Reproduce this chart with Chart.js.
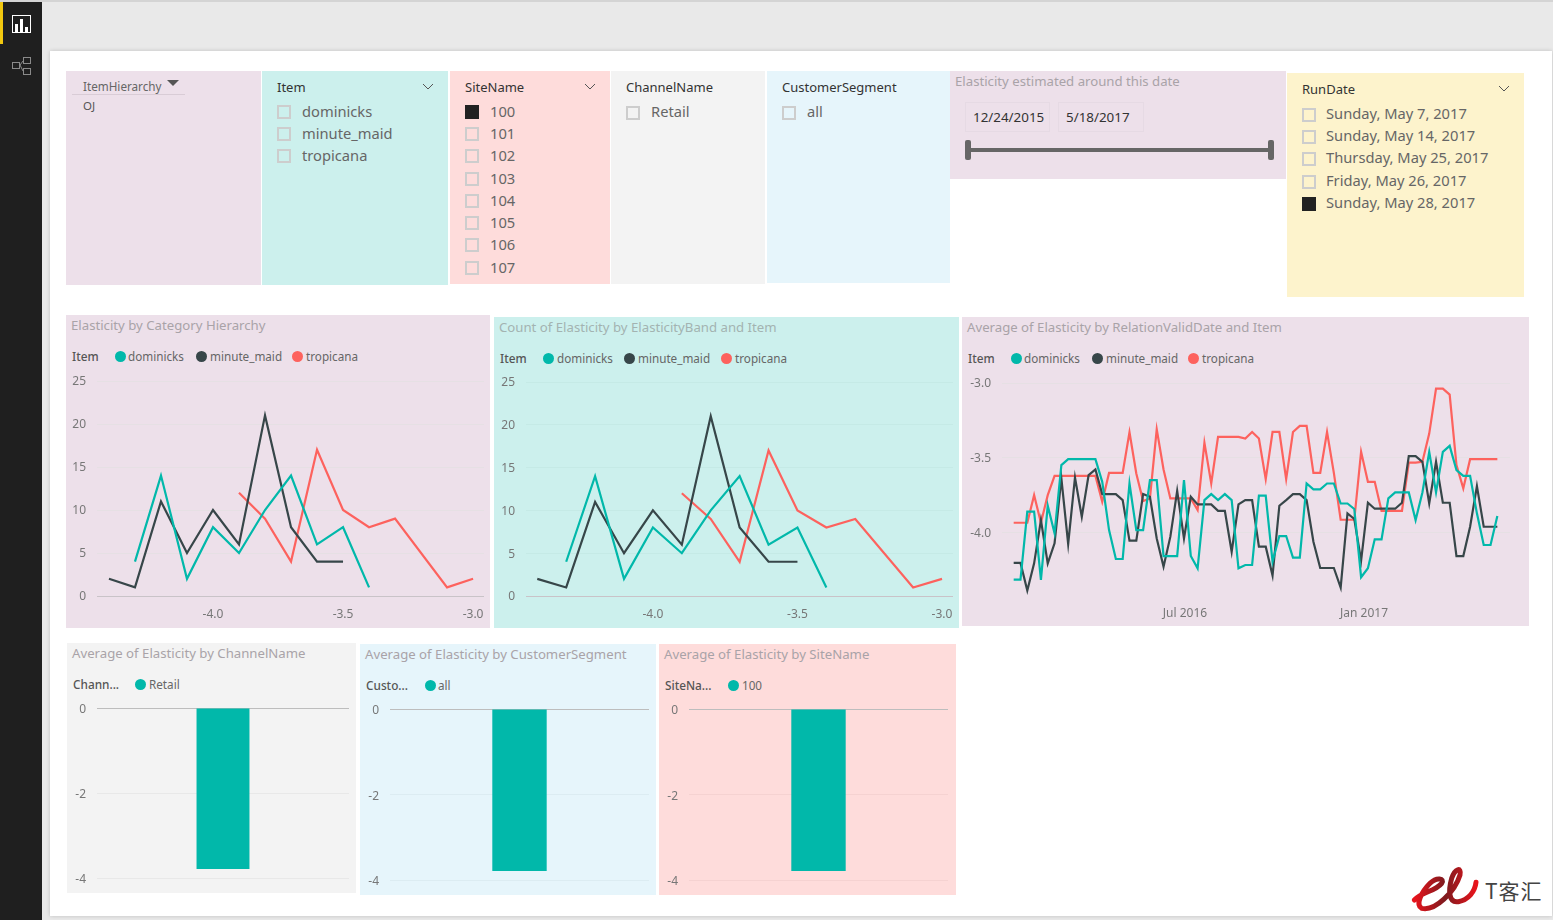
<!DOCTYPE html>
<html>
<head>
<meta charset="utf-8">
<title>Elasticity report</title>
<script src="https://cdn.jsdelivr.net/npm/chart.js@4/dist/chart.umd.min.js"></script>
<style>
html, body { margin: 0; padding: 0; width: 1553px; height: 920px; overflow: hidden; background: #e9e9e9; }
body { font-family: "Noto Sans", sans-serif; position: relative; }
.box { position: absolute; }
.txt { position: absolute; white-space: nowrap; transform: translateY(-50%); line-height: 1; }
.check { position: absolute; width: 10px; height: 10px; border: 2.5px solid #cdcdcd; box-sizing: content-box; }
.check.on { background: #222; border-color: #222; }
.dot { position: absolute; width: 11px; height: 11px; border-radius: 50%; }
canvas { position: absolute; }
</style>
</head>
<body>
<script>
// values
var itemNames = ['dominicks', 'minute_maid', 'tropicana'];
var siteNames = ['100', '101', '102', '103', '104', '105', '106', '107'];
var runDates = ['Sunday, May 7, 2017', 'Sunday, May 14, 2017', 'Thursday, May 25, 2017', 'Friday, May 26, 2017', 'Sunday, May 28, 2017'];
var itemColors = ['#01b8aa', '#374649', '#fd625e'];

var bands = [-4.4, -4.3, -4.2, -4.1, -4.0, -3.9, -3.8, -3.7, -3.6, -3.5, -3.4, -3.3, -3.2, -3.1, -3.0];
var countDominicks = [null, 4, 14, 2, 8, 5, 10, 14, 6, 8, 1, null, null, null, null];
var countMinuteMaid = [2, 1, 11, 5, 10, 6, 21, 8, 4, 4, null, null, null, null, null];
var countTropicana = [null, null, null, null, null, 12, 9, 4, 17, 10, 8, 9, null, 1, 2];

var relationDates = [
  '2016-01-07', '2016-01-14', '2016-01-21', '2016-01-28', '2016-02-04', '2016-02-11', '2016-02-18', '2016-02-25',
  '2016-03-03', '2016-03-10', '2016-03-17', '2016-03-24', '2016-03-31', '2016-04-07', '2016-04-14', '2016-04-21',
  '2016-04-28', '2016-05-05', '2016-05-12', '2016-05-19', '2016-05-26', '2016-06-02', '2016-06-09', '2016-06-16',
  '2016-06-23', '2016-06-30', '2016-07-07', '2016-07-14', '2016-07-21', '2016-07-28', '2016-08-04', '2016-08-11',
  '2016-08-18', '2016-08-25', '2016-09-01', '2016-09-08', '2016-09-15', '2016-09-22', '2016-09-29', '2016-10-06',
  '2016-10-13', '2016-10-20', '2016-10-27', '2016-11-03', '2016-11-10', '2016-11-17', '2016-11-24', '2016-12-01',
  '2016-12-08', '2016-12-15', '2016-12-22', '2016-12-29', '2017-01-05', '2017-01-12', '2017-01-19', '2017-01-26',
  '2017-02-02', '2017-02-09', '2017-02-16', '2017-02-23', '2017-03-02', '2017-03-09', '2017-03-16', '2017-03-23',
  '2017-03-30', '2017-04-06', '2017-04-13', '2017-04-20', '2017-04-27', '2017-05-04', '2017-05-11', '2017-05-18'
];
var avgDominicks = [
  -4.317, -4.317, -3.862, -3.862, -4.319, -3.822, -4.007, -3.550, -3.510, -3.510, -3.510, -3.510,
  -3.510, -3.662, -3.985, -4.179, -4.179, -3.673, -3.985, -3.985, -3.651, -3.651, -4.159, -4.159,
  -4.159, -3.651, -4.159, -4.241, -3.784, -3.744, -3.784, -3.744, -3.784, -4.241, -4.219, -4.219,
  -3.755, -3.755, -4.197, -4.025, -4.025, -4.170, -4.170, -3.673, -3.713, -3.713, -3.673, -3.673,
  -3.807, -3.807, -3.844, -4.301, -4.241, -4.047, -4.047, -3.773, -3.733, -3.733, -3.733, -3.918,
  -3.733, -3.461, -3.733, -3.461, -3.421, -3.584, -3.622, -3.622, -3.873, -4.085, -4.085, -3.891
];
var avgMinuteMaid = [
  -4.205, -4.205, -4.390, -4.208, -3.918, -4.208, -4.074, -3.639, -4.078, -3.633, -3.896, -3.617,
  -3.579, -3.744, -3.744, -3.744, -3.784, -4.056, -4.056, -3.744, -3.762, -4.041, -4.230, -4.029,
  -3.722, -4.041, -3.762, -3.813, -3.813, -3.813, -3.856, -3.856, -4.130, -3.813, -3.784, -3.784,
  -4.096, -4.096, -4.290, -3.822, -3.784, -3.744, -3.744, -3.784, -4.063, -4.239, -4.239, -4.239,
  -4.370, -3.873, -3.911, -4.190, -3.802, -3.842, -3.842, -3.842, -3.842, -3.802, -3.490, -3.490,
  -3.528, -3.807, -3.528, -3.802, -3.802, -4.159, -4.159, -3.963, -3.691, -3.963, -3.963, -3.963
];
var avgTropicana = [
  -3.936, -3.936, -3.936, -3.751, -3.936, -3.751, -3.622, -3.622, -3.622, -3.622, -3.622, -3.622,
  -3.622, -3.795, -3.602, -3.602, -3.602, -3.330, -3.606, -3.791, -3.773, -3.310, -3.579, -3.773,
  -3.773, -3.773, -3.773, -3.851, -3.401, -3.673, -3.361, -3.361, -3.361, -3.361, -3.372, -3.328,
  -3.372, -3.644, -3.328, -3.328, -3.644, -3.328, -3.287, -3.287, -3.602, -3.602, -3.328, -3.602,
  -3.916, -3.916, -3.916, -3.461, -3.662, -3.662, -3.856, -3.856, -3.856, -3.856, -3.533, -3.533,
  -3.528, -3.339, -3.038, -3.038, -3.078, -3.550, -3.706, -3.510, -3.510, -3.510, -3.510, -3.510
];
var avgByChannel = [-3.79];
var avgBySegment = [-3.79];
var avgBySite = [-3.79];

var tickColor = '#777777';
var fontName = '"Noto Sans", sans-serif';

function addBox(x, y, w, h, color) {
    var d = document.createElement('div');
    d.className = 'box';
    d.style.cssText = 'left:' + x + 'px;top:' + y + 'px;width:' + w + 'px;height:' + h + 'px;background:' + color;
    document.body.appendChild(d);
    return d;
}

function addText(str, x, y, size, color, weight) {
    var d = document.createElement('div');
    d.className = 'txt';
    d.textContent = str;
    d.style.cssText = 'left:' + x + 'px;top:' + y + 'px;font-size:' + size + 'px;color:' + color + ';font-weight:' + (weight || 400);
    document.body.appendChild(d);
    return d;
}

function addCheck(x, y, on) {
    var d = document.createElement('div');
    d.className = on ? 'check on' : 'check';
    d.style.left = x + 'px';
    d.style.top = (y - 7) + 'px';
    document.body.appendChild(d);
}

function addChevron(x, y) {
    var s = document.createElementNS('http://www.w3.org/2000/svg', 'svg');
    s.setAttribute('width', 12);
    s.setAttribute('height', 8);
    s.style.cssText = 'position:absolute;left:' + x + 'px;top:' + y + 'px';
    s.innerHTML = '<polyline points="1,1 6,6 11,1" fill="none" stroke="#555" stroke-width="1"/>';
    document.body.appendChild(s);
}

function addLegend(title, titleX, y, names, dotXs, labelXs, colors) {
    addText(title, titleX, y, 11.8, '#555555', 500);
    for (var i = 0; i < names.length; i++) {
        var d = document.createElement('div');
        d.className = 'dot';
        d.style.cssText = 'left:' + dotXs[i] + 'px;top:' + (y - 6) + 'px;background:' + colors[i];
        document.body.appendChild(d);
        addText(names[i], labelXs[i], y, 11.7, '#666666');
    }
}

// canvas covers the panel, plot area is pinned by the paddings and axis sizes
function makeChart(panel, plot, config) {
    var c = document.createElement('canvas');
    c.width = panel.w;
    c.height = panel.h;
    c.style.cssText = 'left:' + panel.x + 'px;top:' + panel.y + 'px;width:' + panel.w + 'px;height:' + panel.h + 'px';
    document.body.appendChild(c);

    config.options.responsive = false;
    config.options.animation = false;
    config.options.plugins = { legend: { display: false }, tooltip: { enabled: false } };
    config.options.layout = { padding: { left: 0, top: plot.top - panel.y, right: panel.x + panel.w - plot.right, bottom: 0 } };
    config.options.scales.x.afterFit = function(scale) {
        scale.height = panel.y + panel.h - plot.bottom;
        scale.paddingLeft = 0;
        scale.paddingRight = 0;
    };
    config.options.scales.y.afterFit = function(scale) {
        scale.width = plot.left - panel.x;
        scale.paddingTop = 0;
        scale.paddingBottom = 0;
    };
    return new Chart(c.getContext('2d'), config);
}

function lineSet(label, values, color, xs) {
    return {
        label: label,
        data: values.map(function(v, i) { return { x: xs[i], y: v }; }),
        borderColor: color,
        borderWidth: 2.2,
        pointRadius: 0,
        tension: 0,
        spanGaps: true,
        fill: false
    };
}

function gridColor(base, zero) {
    return function(ctx) { return ctx.tick && ctx.tick.value === 0 ? zero : base; };
}

function tickOpts(padding, shift) {
    return { color: tickColor, font: { family: fontName, size: 12 }, padding: padding, labelOffset: shift || 0, autoSkip: false, maxRotation: 0, includeBounds: false };
}

function histogram(panel, plot, xMin, xMax, grid) {
    makeChart(panel, plot, {
        type: 'line',
        data: {
            datasets: [
                lineSet(itemNames[0], countDominicks, itemColors[0], bands),
                lineSet(itemNames[1], countMinuteMaid, itemColors[1], bands),
                lineSet(itemNames[2], countTropicana, itemColors[2], bands)
            ]
        },
        options: {
            scales: {
                x: {
                    type: 'linear', min: xMin, max: xMax,
                    grid: { display: false, drawTicks: false }, border: { display: false },
                    afterBuildTicks: function(scale) { scale.ticks = [{ value: -4 }, { value: -3.5 }, { value: -3 }]; },
                    ticks: Object.assign(tickOpts(11), { callback: function(v) { return v.toFixed(1); } })
                },
                y: {
                    min: 0, max: 25,
                    grid: { drawTicks: false, color: gridColor(grid, '#c9c3c8') }, border: { display: false },
                    ticks: Object.assign(tickOpts(11, 1), { stepSize: 5 })
                }
            }
        }
    });
}

function barPanel(panel, plot, label, values, grid) {
    makeChart(panel, plot, {
        type: 'bar',
        data: {
            labels: [label],
            datasets: [{ label: label, data: values, backgroundColor: itemColors[0], categoryPercentage: 1, barPercentage: 0.21 }]
        },
        options: {
            scales: {
                x: { grid: { display: false, drawTicks: false }, border: { display: false }, ticks: { display: false } },
                y: {
                    min: -4, max: 0,
                    grid: { drawTicks: false, color: gridColor(grid, '#bdbdbd') }, border: { display: false },
                    ticks: Object.assign(tickOpts(11, 2), { stepSize: 2 })
                }
            }
        }
    });
}

// page frame
addBox(0, 0, 1553, 2, '#d4d4d4');
addBox(0, 2, 42, 918, '#1f1f1f');
addBox(0, 2, 3, 42, '#f2c80f');
addBox(50, 51, 1502, 865, '#ffffff').style.boxShadow = '0 0 4px rgba(0,0,0,0.18)';
var icons = document.createElementNS('http://www.w3.org/2000/svg', 'svg');
icons.setAttribute('width', 42);
icons.setAttribute('height', 80);
icons.style.cssText = 'position:absolute;left:0;top:0';
icons.innerHTML = '<rect x="12.5" y="15.5" width="18" height="17" fill="none" stroke="#fff"/>' +
    '<rect x="15" y="24" width="3" height="8" fill="#fff"/><rect x="20" y="19" width="3" height="13" fill="#fff"/><rect x="25" y="27" width="3" height="5" fill="#fff"/>' +
    '<g fill="none" stroke="#8a8a8a"><rect x="12.5" y="62.5" width="7" height="6"/><rect x="23.5" y="57.5" width="7" height="6"/><rect x="23.5" y="68.5" width="7" height="6"/><polyline points="23,61 20,65 23,71"/></g>';
document.body.appendChild(icons);

// slicer panels
addBox(66, 71, 195, 214, '#ede0ea');
addBox(262, 71, 186, 214, '#ccf0ed');
addBox(450, 71, 160, 213, '#fedcdb');
addBox(611, 71, 154, 213, '#f3f3f3');
addBox(767, 71, 183, 212, '#e6f5fb');
addBox(950, 71, 336, 108, '#ede0ea');
addBox(1287, 73, 237, 224, '#fdf3cc');

addText('ItemHierarchy', 83, 87, 11.7, '#666666');
addBox(72, 94, 113, 1, '#d9ccd6');
addText('OJ', 83, 106, 11.5, '#555555');
var arrow = addBox(167, 80, 0, 0, 'transparent');
arrow.style.borderLeft = '6.5px solid transparent';
arrow.style.borderRight = '6.5px solid transparent';
arrow.style.borderTop = '6px solid #555555';

addText('Item', 277, 87, 13, '#333333');
addChevron(422, 83);
var itemRows = [111, 133, 155];
itemNames.forEach(function(n, i) {
    addCheck(277, itemRows[i] + 1, false);
    addText(n, 302, itemRows[i], 14.7, '#666666');
});

addText('SiteName', 465, 87, 13, '#333333');
addChevron(584, 83);
var siteRows = [111, 133, 155, 178, 200, 222, 244, 267];
siteNames.forEach(function(n, i) {
    addCheck(465, siteRows[i] + 1, i === 0);
    addText(n, 490, siteRows[i], 14.7, '#666666');
});

addText('ChannelName', 626, 87, 13, '#333333');
addCheck(626, 113, false);
addText('Retail', 651, 111, 14.7, '#666666');

addText('CustomerSegment', 782, 87, 13, '#333333');
addCheck(782, 113, false);
addText('all', 807, 111, 14.7, '#666666');

addText('Elasticity estimated around this date', 955, 82, 13.2, '#a9a3a8');
var dateBoxA = addBox(965, 102, 85, 30, 'transparent');
dateBoxA.style.border = '1px solid #e6dae4';
dateBoxA.style.boxSizing = 'border-box';
var dateBoxB = addBox(1058, 102, 86, 30, 'transparent');
dateBoxB.style.border = '1px solid #e6dae4';
dateBoxB.style.boxSizing = 'border-box';
addText('12/24/2015', 973, 118, 13.4, '#333333');
addText('5/18/2017', 1066, 118, 13.4, '#333333');
addBox(968, 148, 304, 4, '#666666');
addBox(965, 140, 6, 20, '#666666').style.borderRadius = '2px';
addBox(1268, 140, 6, 20, '#666666').style.borderRadius = '2px';

addText('RunDate', 1302, 89, 13, '#333333');
addChevron(1498, 85);
var runRows = [113, 135, 157, 180, 202];
runDates.forEach(function(n, i) {
    addCheck(1302, runRows[i] + 2, i === 4);
    addText(n, 1326, runRows[i], 14.7, '#666666');
});

// line chart panels
addBox(66, 315, 424, 313, '#ede0ea');
addBox(494, 317, 465, 311, '#ccf0ed');
addBox(962, 317, 567, 309, '#ede0ea');
addText('Elasticity by Category Hierarchy', 71, 326, 13.2, '#a9a3a8');
addText('Count of Elasticity by ElasticityBand and Item', 499, 328, 13.2, '#a3b3b1');
addText('Average of Elasticity by RelationValidDate and Item', 967, 328, 13.2, '#a9a3a8');
addLegend('Item', 72, 357, itemNames, [115, 196, 292], [128, 210, 306], itemColors);
addLegend('Item', 500, 359, itemNames, [543, 624, 721], [557, 638, 735], itemColors);
addLegend('Item', 968, 359, itemNames, [1011, 1092, 1188], [1024, 1106, 1202], itemColors);

histogram({ x: 66, y: 315, w: 424, h: 313 }, { left: 97, right: 484, top: 381, bottom: 596 }, -4.446, -2.958, '#e6e0e4');
histogram({ x: 494, y: 317, w: 465, h: 311 }, { left: 526, right: 953, top: 382, bottom: 596 }, -4.439, -2.962, '#c5eae6');

makeChart({ x: 962, y: 317, w: 567, h: 309 }, { left: 1002, right: 1510, top: 383, bottom: 595 }, {
    type: 'line',
    data: {
        datasets: [
            lineSet(itemNames[0], avgDominicks, itemColors[0], relationDates.map(function(d) { return Date.parse(d); })),
            lineSet(itemNames[1], avgMinuteMaid, itemColors[1], relationDates.map(function(d) { return Date.parse(d); })),
            lineSet(itemNames[2], avgTropicana, itemColors[2], relationDates.map(function(d) { return Date.parse(d); }))
        ]
    },
    options: {
        scales: {
            x: {
                type: 'linear',
                min: Date.parse('2015-12-26'),
                max: Date.parse('2017-05-31'),
                grid: { display: false, drawTicks: false }, border: { display: false },
                afterBuildTicks: function(scale) {
                    scale.ticks = [{ value: Date.parse('2016-07-01') }, { value: Date.parse('2017-01-01') }];
                },
                ticks: Object.assign(tickOpts(11), {
                    callback: function(v) {
                        return new Date(v).getUTCFullYear() === 2016 ? 'Jul 2016' : 'Jan 2017';
                    }
                })
            },
            y: {
                min: -4.42, max: -3,
                grid: { drawTicks: false, color: '#e6e0e4' }, border: { display: false },
                afterBuildTicks: function(scale) { scale.ticks = [{ value: -4 }, { value: -3.5 }, { value: -3 }]; },
                ticks: Object.assign(tickOpts(11, 1), { callback: function(v) { return v.toFixed(1); } })
            }
        }
    }
});

// bar panels
addBox(67, 643, 289, 250, '#f3f3f3');
addBox(360, 644, 296, 251, '#e6f5fb');
addBox(659, 644, 297, 251, '#fedcdb');
addText('Average of Elasticity by ChannelName', 72, 654, 13.2, '#a9a3a8');
addText('Average of Elasticity by CustomerSegment', 365, 655, 13.2, '#a9a3a8');
addText('Average of Elasticity by SiteName', 664, 655, 13.2, '#a9a3a8');
addLegend('Chann...', 73, 685, ['Retail'], [135], [149], itemColors);
addLegend('Custo...', 366, 686, ['all'], [425], [438], itemColors);
addLegend('SiteNa...', 665, 686, ['100'], [728], [742], itemColors);

barPanel({ x: 67, y: 643, w: 289, h: 250 }, { left: 97, right: 349, top: 708, bottom: 878 }, 'Retail', avgByChannel, '#e8e8e8');
barPanel({ x: 360, y: 644, w: 296, h: 251 }, { left: 390, right: 649, top: 709, bottom: 880 }, 'all', avgBySegment, '#dcecf2');
barPanel({ x: 659, y: 644, w: 297, h: 251 }, { left: 689, right: 948, top: 709, bottom: 880 }, '100', avgBySite, '#f5d2d1');

// watermark in the corner
var mark = document.createElementNS('http://www.w3.org/2000/svg', 'svg');
mark.setAttribute('width', 173);
mark.setAttribute('height', 70);
mark.setAttribute('viewBox', '0 0 519 210');
mark.style.cssText = 'position:absolute;left:1380px;top:850px';
mark.innerHTML = '<defs><linearGradient id="rg" x1="0" x2="1"><stop offset="0" stop-color="#e8141c"/><stop offset="0.5" stop-color="#7d1a1e"/><stop offset="1" stop-color="#e8141c"/></linearGradient></defs>' +
    '<path d="M103 150 C125 125 165 125 185 100 C195 85 170 80 150 100 C125 125 105 165 125 175 C165 185 225 125 240 75 C245 50 225 55 215 85 C205 120 205 160 235 155 C265 150 285 125 288 97" fill="none" stroke="url(#rg)" stroke-width="15" stroke-linecap="round"/>';
document.body.appendChild(mark);
var markText = addText('T客汇', 1485, 890, 21, '#444444');
markText.style.fontFamily = '"Noto Sans CJK SC", sans-serif';
markText.style.letterSpacing = '1px';
</script>
</body>
</html>
